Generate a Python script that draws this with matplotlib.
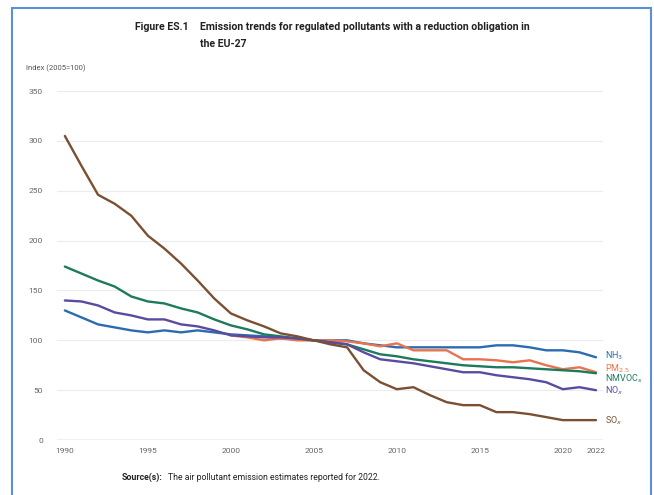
import matplotlib.pyplot as plt
from matplotlib.patches import Rectangle

plt.rcParams['font.family'] = ['Roboto', 'DejaVu Sans']

years = list(range(1990, 2023))
pm_years = list(range(2000, 2023))

nh3 = [130, 123, 116, 113, 110, 108, 110, 108, 110, 108, 106,
       105, 104, 102, 101, 100, 100, 100, 97, 95, 93,
       93, 93, 93, 93, 93, 95, 95, 93, 90, 90, 88, 83]
nmvoc = [174, 167, 160, 154, 144, 139, 137, 132, 128, 121, 115,
         111, 106, 104, 102, 100, 98, 96, 91, 86, 84,
         81, 79, 77, 75, 74, 73, 73, 72, 71, 70, 69, 67]
nox = [140, 139, 135, 128, 125, 121, 121, 116, 114, 110, 105,
       104, 103, 103, 102, 100, 98, 96, 88, 81, 79,
       77, 74, 71, 68, 68, 65, 63, 61, 58, 51, 53, 50]
sox = [305, 275, 246, 237, 225, 205, 192, 177, 160, 142, 127,
       120, 114, 107, 104, 100, 96, 93, 70, 58, 51,
       53, 45, 38, 35, 35, 28, 28, 26, 23, 20, 20, 20]
pm25 = [105, 103, 100, 102, 100, 100, 100, 99, 97, 94, 97,
        90, 90, 90, 81, 81, 80, 78, 80, 75, 71, 73, 68]

series = [
    ('NH$_3$', years, nh3, '#2b6cb0', 85),
    ('PM$_{2.5}$', pm_years, pm25, '#e8734f', 72),
    ('NMVOC$_s$', years, nmvoc, '#1d7a5c', 61),
    ('NO$_x$', years, nox, '#5a4aa0', 49),
    ('SO$_x$', years, sox, '#7b5032', 19),
]

fig = plt.figure(figsize=(6.54, 4.95), dpi=100)
ax = fig.add_axes([0.087, 0.111, 0.835, 0.705])

for name, xs, ys, col, ly in series:
    ax.plot(xs, ys, color=col, lw=1.7, solid_capstyle='round')
    ax.text(2022.55, ly, name, color=col, fontsize=6.5, va='center', ha='left')

ax.set_xlim(1989.52, 2022.42)
ax.set_ylim(0, 350)
ax.set_yticks([0, 50, 100, 150, 200, 250, 300, 350])
ax.set_xticks([1990, 1995, 2000, 2005, 2010, 2015, 2020, 2022])
ax.grid(axis='y', color='#ececec', lw=0.8)
ax.axhline(0, color='#bbbbbb', lw=1.0)
for s in ax.spines.values():
    s.set_visible(False)
ax.tick_params(length=0, labelsize=6, labelcolor='#666666')
ax.tick_params(axis='y', pad=10)
ax.tick_params(axis='x', pad=6)
ax.set_axisbelow(True)

# titles and notes
fig.text(135 / 654, 1 - 27 / 495, 'Figure ES.1', fontsize=7.6, weight='bold', color='#222222', va='center')
fig.text(200 / 654, 1 - 27 / 495,
         'Emission trends for regulated pollutants with a reduction obligation in',
         fontsize=7.6, weight='bold', color='#222222', va='center')
fig.text(200 / 654, 1 - 44 / 495, 'the EU-27', fontsize=7.6, weight='bold', color='#222222', va='center')
fig.text(26 / 654, 1 - 68 / 495, 'Index (2005=100)', fontsize=5.5, color='#555555', va='center')
fig.text(122 / 654, 1 - 477 / 495, 'Source(s):', fontsize=6.3, weight='bold', color='#222222', va='center')
fig.text(168 / 654, 1 - 477 / 495, 'The air pollutant emission estimates reported for 2022.',
         fontsize=6.2, color='#222222', va='center')

# blue frame round the figure
fig.patches.append(Rectangle((12 / 654, -0.05), 639 / 654, 1 - 8 / 495 + 0.05,
                             transform=fig.transFigure, fill=False,
                             edgecolor='#5b8fd6', lw=1.5))

fig.savefig('out.png', dpi=100)
